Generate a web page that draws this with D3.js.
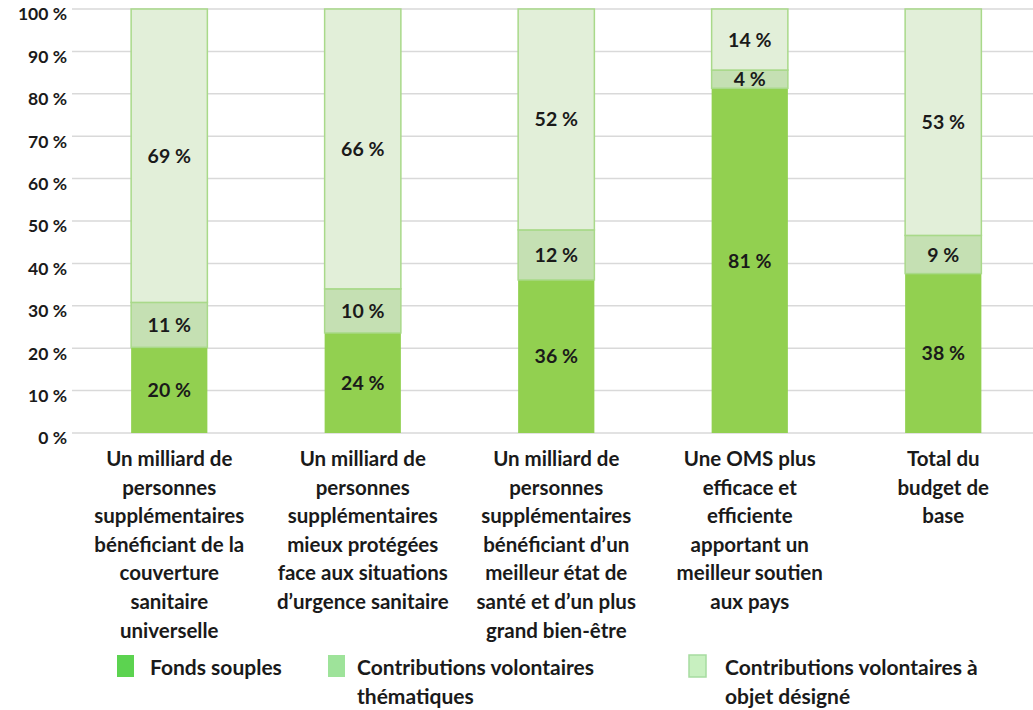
<!DOCTYPE html>
<html><head><meta charset="utf-8">
<script src="https://cdn.jsdelivr.net/npm/d3@7"></script>
<style>
body{margin:0;background:#fff;}
svg{font-family:Lato,"Open Sans",sans-serif;font-weight:bold;}
</style></head>
<body><svg id="c" width="1033" height="710"></svg>
<script>
const categories = [
  ["Un milliard de","personnes","supplémentaires","bénéficiant de la","couverture","sanitaire","universelle"],
  ["Un milliard de","personnes","supplémentaires","mieux protégées","face aux situations","d’urgence sanitaire"],
  ["Un milliard de","personnes","supplémentaires","bénéficiant d’un","meilleur état de","santé et d’un plus","grand bien-être"],
  ["Une OMS plus","efficace et","efficiente","apportant un","meilleur soutien","aux pays"],
  ["Total du","budget de","base"]
];
const seriesNames = ["Fonds souples","Contributions volontaires thématiques","Contributions volontaires à objet désigné"];
const legendLines = [["Fonds souples"],["Contributions volontaires","thématiques"],["Contributions volontaires à","objet désigné"]];
const fondsSouples = [20.2, 23.6, 36.1, 81.3, 37.6];
const thematiques = [10.6, 10.4, 11.8, 4.3, 9.0];
const objetDesigne = [69.2, 66.0, 52.1, 14.4, 53.4];
const yTicks = [0,10,20,30,40,50,60,70,80,90,100];

const barColors = ["#92d050","#c5e0b3","#e2efd9"];
const legendColors = ["#5cd350","#9ee39a","#c8f0c0"];

const svg = d3.select("#c");
const x = d3.scaleBand().domain(d3.range(categories.length)).range([72.5, 1040]).paddingInner(0.606).paddingOuter(0.303);
const y = d3.scaleLinear().domain([0,100]).range([433, 9]);

// gridlines
svg.append("g").selectAll("line").data(yTicks).join("line")
  .attr("x1",72).attr("x2",1033).attr("y1",d=>y(d)).attr("y2",d=>y(d))
  .attr("stroke","#d9d9d9").attr("stroke-width",1.5);

// y axis labels
const yAxis = d3.axisLeft(y).tickValues(yTicks).tickFormat(d=>d+" %").tickSize(0).tickPadding(0);
const ga = svg.append("g").attr("transform","translate(67,0)").call(yAxis);
ga.select(".domain").remove();
ga.selectAll("text").attr("font-size",17.5).attr("font-family","Lato,sans-serif").attr("font-weight","bold").attr("fill","#1a1a1a").attr("dy","0.62em");

// stacked data
const rows = categories.map((c,i)=>({i, a:fondsSouples[i], b:thematiques[i], c:objetDesigne[i]}));
const stack = d3.stack().keys(["a","b","c"])(rows);

stack.forEach((layer,k)=>{
  const g = svg.append("g");
  g.selectAll("rect").data(layer).join("rect")
    .attr("x",d=>x(d.data.i)).attr("width",x.bandwidth())
    .attr("y",d=>y(d[1])).attr("height",d=>y(d[0])-y(d[1]))
    .attr("fill",barColors[k])
    .attr("stroke", k===0 ? "none" : "#a9d98a").attr("stroke-width",1.5);
  g.selectAll("text").data(layer).join("text")
    .attr("x",d=>x(d.data.i)+x.bandwidth()/2)
    .attr("y",d=>(y(d[0])+y(d[1]))/2)
    .attr("dy","0.36em").attr("text-anchor","middle")
    .attr("font-size",19.5).attr("fill","#1a1a1a")
    .text(d=>Math.round(d[1]-d[0])+" %");
});

// x labels
const xl = svg.append("g");
categories.forEach((lines,i)=>{
  const t = xl.append("text").attr("text-anchor","middle").attr("font-size",20.5).attr("fill","#1a1a1a");
  lines.forEach((ln,j)=>{
    t.append("tspan").attr("x",x(i)+x.bandwidth()/2).attr("y",466+j*28.6).text(ln);
  });
});

// legend
const legendX = [117, 328, 689];
const legendTextX = [150, 357, 725];
legendLines.forEach((lines,k)=>{
  svg.append("rect").attr("x",legendX[k]).attr("y",655).attr("width",17).attr("height",22)
    .attr("fill",legendColors[k]).attr("stroke", k===2 ? "#a6dca0" : "none").attr("stroke-width",1.5);
  const t = svg.append("text").attr("font-size",21).attr("fill","#1a1a1a");
  lines.forEach((ln,j)=>t.append("tspan").attr("x",legendTextX[k]).attr("y",675+j*29).text(ln));
});
</script></body></html>
